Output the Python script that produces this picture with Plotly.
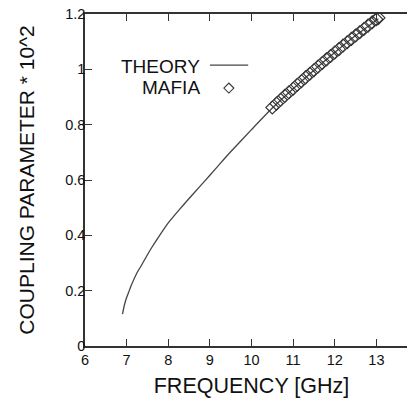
import plotly.graph_objects as go

# Theory curve (frequency GHz, coupling parameter * 10^2)
theory_freq = [6.90, 6.95, 7.00, 7.05, 7.10, 7.25, 7.35, 7.50, 7.60, 7.75, 8.00, 8.25,
               8.50, 8.75, 9.00, 9.25, 9.50, 10.00, 10.50, 11.00, 11.50, 12.00, 12.50, 13.05]
theory_val = [0.115, 0.150, 0.175, 0.195, 0.215, 0.265, 0.290, 0.330, 0.355, 0.390, 0.445,
              0.490, 0.533, 0.575, 0.617, 0.660, 0.702, 0.782, 0.860, 0.930, 0.997, 1.061,
              1.122, 1.183]

# MAFIA simulation points
mafia_freq = [10.5, 10.6, 10.7, 10.8, 10.9, 11.0, 11.1, 11.2, 11.3, 11.4, 11.5, 11.6,
              11.7, 11.8, 11.9, 12.0, 12.1, 12.2, 12.3, 12.4, 12.5, 12.6, 12.7, 12.8,
              12.9, 13.0, 13.05]
mafia_val = [0.862, 0.876, 0.890, 0.904, 0.917, 0.930, 0.944, 0.957, 0.971, 0.984, 0.997,
             1.010, 1.023, 1.036, 1.048, 1.061, 1.073, 1.086, 1.098, 1.110, 1.122, 1.134,
             1.146, 1.158, 1.170, 1.181, 1.186]

x_ticks = [6, 7, 8, 9, 10, 11, 12, 13, 14]
y_ticks = [0, 0.2, 0.4, 0.6, 0.8, 1.0, 1.2]
y_tick_text = ["0", "0.2", "0.4", "0.6", "0.8", "1", "1.2"]

FONT = "Liberation Sans, Arial, Helvetica, sans-serif"
AX = "#333333"

fig = go.Figure()
fig.add_trace(go.Scatter(x=theory_freq, y=theory_val, mode="lines",
                         line=dict(color="#444444", width=1.3, shape="spline", smoothing=0.6),
                         showlegend=False))
fig.add_trace(go.Scatter(x=mafia_freq, y=mafia_val, mode="markers",
                         marker=dict(symbol="diamond-open", size=10,
                                     color="#333333", line=dict(width=1.1)),
                         showlegend=False))

fig.update_layout(
    width=410, height=390,
    margin=dict(l=77, r=0, t=6, b=52),
    paper_bgcolor="white", plot_bgcolor="white",
    font=dict(family=FONT, color="#111111"),
    xaxis=dict(range=[6, 14], tickvals=x_ticks, ticks="inside", ticklen=7,
               tickwidth=1.2, tickcolor=AX, showline=True, linecolor=AX, linewidth=1.5,
               mirror="ticks", showgrid=False, zeroline=False, ticklabeloverflow="allow",
               automargin=False, tickfont=dict(size=14.5),
               title=dict(text="FREQUENCY [GHz]", font=dict(size=21.5), standoff=15)),
    yaxis=dict(range=[0, 1.2], tickvals=y_ticks, ticktext=y_tick_text, ticks="inside",
               ticklen=7, tickwidth=1.2, tickcolor=AX, showline=True, linecolor=AX,
               linewidth=1.5, mirror="ticks", showgrid=False, zeroline=False,
               ticklabelstandoff=-5, ticklabeloverflow="allow", automargin=False,
               tickfont=dict(size=14.5),
               title=dict(text="COUPLING PARAMETER * 10^2", font=dict(size=21), standoff=25)),
)

# Legend (text on the left, key on the right)
fig.add_annotation(x=0.351, y=0.843, xref="paper", yref="paper", text="THEORY",
                   showarrow=False, xanchor="right", yanchor="middle",
                   font=dict(size=19, family=FONT, color="#111111"))
fig.add_annotation(x=0.351, y=0.779, xref="paper", yref="paper", text="MAFIA",
                   showarrow=False, xanchor="right", yanchor="middle",
                   font=dict(size=19, family=FONT, color="#111111"))
fig.add_shape(type="line", xref="paper", yref="paper", x0=0.375, x1=0.490,
              y0=0.846, y1=0.846, line=dict(color="#444444", width=1.3))
fig.add_shape(type="path", xref="paper", yref="paper", xsizemode="pixel",
              ysizemode="pixel", xanchor=0.432, yanchor=0.777,
              path="M -5 0 L 0 5 L 5 0 L 0 -5 Z",
              line=dict(color="#333333", width=1.1))

fig.write_html("out.html")
